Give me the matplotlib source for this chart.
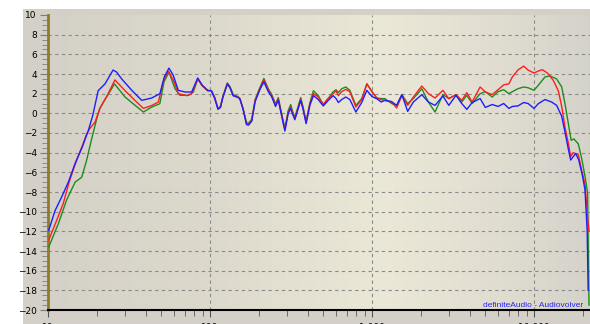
import numpy as np
import matplotlib.pyplot as plt
from matplotlib.patches import Rectangle

# ---- values (Hz, dB) ----
# bass region, each curve read on its own
red_low_f = [10.1, 11.3, 12.4, 13.5, 14.7, 15.4, 16.3, 17.3, 18.2, 19.5,
             20.9, 23.0, 25.9, 29.9, 34.5, 38.8, 43.7, 48.0, 51.4, 55.3,
             59.3, 63.7, 71.9, 77.1, 84.0, 89.6, 96.8]
red_low_db = [-12.9, -10.9, -9.2, -7.0, -5.2, -4.3, -3.3, -2.1, -1.5, -0.9,
              0.5, 1.7, 3.4, 2.3, 1.3, 0.5, 0.8, 1.15, 3.2, 4.3,
              3.4, 2.0, 1.8, 2.0, 3.5, 2.8, 2.3]

green_low_f = [10.1, 11.6, 13.0, 14.7, 16.15, 17.3, 18.6, 20.0, 20.9, 22.0,
               24.7, 25.7, 29.9, 34.5, 38.8, 43.7, 49.0, 52.0, 55.8, 60.8,
               65.3, 73.7, 79.0, 84.0, 89.6, 96.8]
green_low_db = [-13.6, -11.2, -8.85, -7.0, -6.5, -4.8, -2.6, -0.54, 0.5, 1.15,
                2.5, 3.0, 1.66, 0.81, 0.13, 0.64, 0.98, 3.18, 4.2, 2.5,
                1.83, 1.83, 2.17, 3.5, 2.8, 2.3]

blue_low_f = [10.1, 11.05, 12.15, 13.35, 14.7, 16.2, 17.7, 18.9, 20.4, 22.5,
              25.2, 26.5, 28.5, 32.9, 37.9, 43.7, 49.1, 52.2, 55.8, 59.3,
              63.7, 70.1, 77.1, 84.0, 89.6, 96.8]
blue_low_db = [-11.9, -9.9, -8.5, -7.0, -5.1, -3.5, -1.8, -0.2, 2.3, 3.0,
               4.4, 4.2, 3.5, 2.34, 1.32, 1.56, 2.0, 3.7, 4.6, 3.87,
               2.34, 2.17, 2.17, 3.6, 2.85, 2.34]

# 100 Hz .. 1 kHz, same frequencies for all three curves
mid_freq = [102, 107, 112, 116, 120, 128, 133, 139, 149, 153,
            160, 168, 173, 181, 190, 203, 215, 229, 240, 254,
            264, 280, 290, 304, 315, 322, 334, 363, 376, 392,
            414, 435, 466, 500, 536, 576, 600, 620, 650, 689,
            730, 795, 864, 930]
red_mid = [2.3, 1.6, 0.5, 0.6, 1.66, 3.0, 2.6, 1.8, 1.66, 1.5,
           0.48, -1.05, -1.1, -0.71, 1.32, 2.5, 3.4, 2.34, 1.83, 0.81,
           1.45, -0.54, -1.65, 0.13, 0.64, 0.1, -0.54, 1.45, 0.48, -0.9,
           0.98, 2.0, 1.66, 0.9, 1.5, 2.0, 2.3, 1.8, 2.2, 2.44,
           2.2, 0.64, 1.4, 3.0]
green_mid = [2.3, 1.6, 0.5, 0.7, 1.7, 3.1, 2.7, 1.9, 1.7, 1.5,
             0.5, -0.95, -1.0, -0.6, 1.4, 2.6, 3.55, 2.5, 1.95, 0.95,
             1.6, -0.4, -1.5, 0.3, 0.9, 0.3, -0.4, 1.6, 0.6, -0.8,
             1.1, 2.3, 1.8, 0.9, 1.5, 2.2, 2.4, 2.1, 2.5, 2.68,
             2.34, 0.81, 1.5, 3.0]
blue_mid = [2.3, 1.5, 0.4, 0.6, 1.6, 3.0, 2.6, 1.8, 1.6, 1.45,
            0.4, -1.15, -1.2, -0.8, 1.2, 2.4, 3.2, 2.2, 1.7, 0.7,
            1.35, -0.65, -1.8, 0.0, 0.5, 0.0, -0.65, 1.3, 0.35, -1.05,
            0.85, 1.8, 1.4, 0.75, 1.3, 1.8, 1.5, 1.1, 1.4, 1.66,
            1.4, 0.13, 1.1, 2.34]

# 1 kHz .. 9 kHz
hi_freq = [1000, 1070, 1140, 1200, 1320, 1420, 1530, 1660, 1800, 2030,
           2230, 2450, 2740, 2980, 3300, 3580, 3850, 4150, 4650, 5010,
           5520, 6000, 6500, 7000, 7350, 7950, 8640, 9200]
red_hi = [2.2, 1.56, 1.4, 1.32, 1.15, 0.54, 1.83, 0.81, 1.66, 2.78,
          2.0, 1.56, 2.34, 1.49, 1.9, 1.32, 2.1, 1.15, 2.68, 2.17,
          1.9, 2.4, 2.9, 3.0, 3.7, 4.4, 4.8, 4.4]
green_hi = [2.2, 1.56, 1.5, 1.5, 1.0, 0.81, 1.9, 1.0, 1.5, 2.5,
            1.15, 0.13, 1.9, 1.5, 1.9, 1.15, 1.83, 1.0, 2.0, 2.2,
            1.66, 2.2, 2.4, 2.0, 2.2, 2.5, 2.68, 2.6]
blue_hi = [1.7, 1.49, 1.15, 1.32, 1.2, 0.81, 1.9, 0.2, 1.15, 1.9,
           1.15, 0.81, 1.76, 0.81, 1.83, 1.0, 0.4, 1.1, 1.5, 0.6,
           0.9, 0.7, 1.0, 0.5, 0.7, 0.75, 1.1, 1.0]

# top octave and roll-off
red_top_f = [10000, 10630, 11270, 12100, 13150, 14125, 14830, 15530, 16280, 16840,
             17480, 18770, 19700, 20650, 21150, 21540, 21850]
red_top_db = [4.1, 4.3, 4.44, 4.1, 3.36, 2.3, 0.7, -1.4, -3.0, -4.4,
              -4.0, -4.2, -5.8, -7.2, -9.3, -11.0, -12.0]
green_top_f = [10000, 10630, 11690, 12530, 13800, 14830, 15530, 16280, 16960, 17620,
               18770, 19700, 20650, 21420, 21850]
green_top_db = [2.34, 2.85, 3.7, 3.8, 3.5, 2.68, 1.0, -1.0, -2.75, -2.6,
                -3.1, -4.6, -6.4, -8.1, -19.5]
blue_top_f = [10000, 10630, 11690, 12850, 13800, 14830, 15530, 16280, 16840, 17480,
              18100, 18900, 19950, 20650, 21300, 21600]
blue_top_db = [0.5, 0.98, 1.4, 1.15, 0.81, -0.3, -1.9, -3.6, -4.75, -4.4,
               -4.1, -4.75, -6.4, -7.8, -12.0, -18.0]

x_ticks = [10, 100, 1000, 10000]
x_labels = ['10', '100', '1 000', '10 000']
credit = 'definiteAudio - Audiovolver'

red_f = red_low_f + mid_freq + hi_freq + red_top_f
red_db = red_low_db + red_mid + red_hi + red_top_db
green_f = green_low_f + mid_freq + hi_freq + green_top_f
green_db = green_low_db + green_mid + green_hi + green_top_db
blue_f = blue_low_f + mid_freq + hi_freq + blue_top_f
blue_db = blue_low_db + blue_mid + blue_hi + blue_top_db

W, H = 590, 324
fig = plt.figure(figsize=(W / 100, H / 100), dpi=100)
fig.patch.set_facecolor('white')
# grey window panel behind the plot
fig.add_artist(Rectangle((23 / W, 0), 1 - 23 / W, (H - 9) / H,
                         transform=fig.transFigure, facecolor='#d4d0c8',
                         edgecolor='none', zorder=0))

rect = [48 / W, 14 / H, 542 / W, 295 / H]

# horizontal gradient of the plot area
bg = fig.add_axes(rect, zorder=1)
t = np.linspace(0, 1, 400)
stops = [0.0, 0.3, 0.62, 0.85, 1.0]
r = np.interp(t, stops, [0.835, 0.865, 0.925, 0.875, 0.835])
g = np.interp(t, stops, [0.820, 0.850, 0.910, 0.860, 0.825])
b = np.interp(t, stops, [0.785, 0.800, 0.845, 0.815, 0.795])
bg.imshow(np.dstack([r, g, b])[None, :, :].reshape(1, -1, 3),
          extent=[0, 1, 0, 1], aspect='auto')
bg.axis('off')

ax = fig.add_axes(rect, zorder=2)
ax.patch.set_alpha(0)
ax.set_xscale('log')
ax.set_xlim(10, 22170)
ax.set_ylim(-20, 10)

for y in range(-18, 10, 2):
    ax.axhline(y, color='#8a8a8a', lw=0.8, ls=(0, (3, 3)), zorder=1)
for x in [100, 1000, 10000]:
    ax.axvline(x, color='#8a8a8a', lw=0.8, ls=(0, (3, 3)), zorder=1)

ax.plot(green_f, green_db, color='#1e8c1e', lw=1.0, zorder=3)
ax.plot(red_f, red_db, color='#ff1e1e', lw=1.0, zorder=4)
ax.plot(blue_f, blue_db, color='#1e1eff', lw=1.0, zorder=5)

ax.set_yticks(range(-20, 11, 2))
ax.set_yticks(np.arange(-20, 10.01, 0.5), minor=True)
ax.set_xticks(x_ticks)
ax.set_xticklabels(x_labels)
ax.tick_params(axis='y', which='major', direction='out', length=6, width=0.8,
               color='#7a7a7a', labelsize=6.5, pad=2)
ax.tick_params(axis='y', which='minor', direction='out', length=4, width=0.7,
               color='#8a8a8a')
ax.tick_params(axis='x', which='major', direction='out', length=5, width=0.8,
               color='#555555', labelsize=6.5, pad=4)
ax.tick_params(axis='x', which='minor', direction='out', length=4, width=0.7,
               color='#666666')

for side in ['top']:
    ax.spines[side].set_visible(False)
ax.spines['right'].set_color('#7cc07c')
ax.spines['right'].set_linewidth(0.8)
ax.spines['left'].set_color('#8c7c28')
ax.spines['left'].set_linewidth(2)
ax.spines['bottom'].set_color('black')
ax.spines['bottom'].set_linewidth(1.5)

ax.text(0.987, 0.011, credit, transform=ax.transAxes, ha='right',
        va='baseline', color='#2626f0', fontsize=6, family='Liberation Sans',
        zorder=6)

fig.savefig('out.png', dpi=100)
